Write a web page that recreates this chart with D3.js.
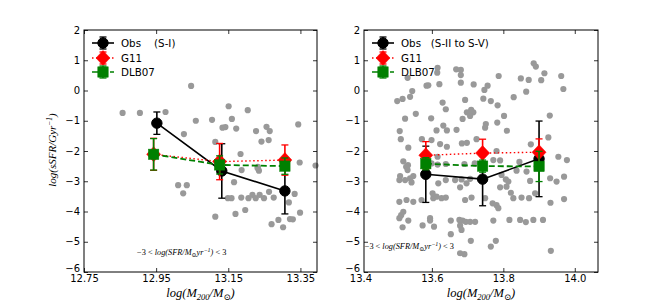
<!DOCTYPE html>
<html><head><meta charset="utf-8">
<script src="https://cdn.jsdelivr.net/npm/d3@7"></script>
<style>
body{margin:0;background:#fff}
text{font-family:"DejaVu Sans",sans-serif}
.m{font-family:"Liberation Serif","DejaVu Serif",serif;font-style:italic}
</style>
</head><body>
<svg id="c" width="664" height="302"></svg>
<script>
// ---------- data ----------
const yTicks=[2,1,0,-1,-2,-3,-4,-5,-6];
const leftXTicks=[12.75,12.95,13.15,13.35];
const rightXTicks=[13.4,13.6,13.8,14.0];

const leftScatterX=[12.857,12.905,12.976,13.047,13.060,13.027,13.105,13.151,13.160,13.204,13.134,13.142,13.172,13.227,13.256,13.265,13.242,13.262,13.344,13.114,13.184,13.348,13.392,13.232,13.187,13.231,13.235,13.011,13.035,13.025,13.166,13.149,13.159,13.186,13.206,13.217,13.226,13.237,13.249,13.263,13.276,13.334,13.318,13.349,13.197,13.170,13.114,13.270,13.289,13.302,13.321,13.329];
const leftScatterY=[-0.74,-0.74,-0.71,0.15,-1.00,-1.44,-0.97,-0.52,-0.94,-0.65,-1.23,-1.21,-1.26,-1.34,-1.20,-1.34,-1.69,-1.64,-1.12,-1.70,-2.10,-2.38,-2.48,-2.52,-2.63,-2.56,-2.65,-3.13,-3.13,-3.40,-3.03,-3.56,-3.56,-3.54,-3.56,-3.45,-3.56,-3.45,-3.56,-3.35,-3.54,-3.42,-3.70,-4.04,-3.95,-4.08,-4.17,-4.42,-4.28,-4.52,-4.25,-4.26];

const rightScatterX=[13.616,13.615,13.668,13.681,13.681,13.532,13.621,13.585,13.590,13.681,13.717,13.756,13.787,13.849,13.871,13.885,13.891,13.915,13.906,13.962,13.968,13.864,13.829,13.747,13.744,13.765,13.784,13.693,13.630,13.545,13.539,13.518,13.503,13.555,13.525,13.598,13.639,13.698,13.710,13.716,13.707,13.686,13.751,13.749,13.802,13.783,13.810,13.930,13.632,13.642,13.669,13.613,13.510,13.513,13.572,13.599,13.623,13.642,13.684,13.698,13.725,13.534,13.781,13.926,13.877,13.954,13.978,13.520,13.533,13.616,13.691,13.720,13.772,13.791,13.845,13.528,13.532,13.511,13.525,13.539,13.548,13.543,13.509,13.599,13.616,13.639,13.618,13.639,13.665,13.683,13.707,13.679,13.697,13.795,13.807,13.814,13.809,13.791,13.837,13.865,13.875,13.931,13.949,13.970,13.509,13.529,13.548,13.571,13.604,13.613,13.627,13.639,13.602,13.693,13.711,13.749,13.770,13.781,13.786,13.821,13.828,13.851,13.872,13.889,13.932,13.970,13.509,13.514,13.520,13.534,13.518,13.595,13.595,13.574,13.606,13.653,13.677,13.686,13.695,13.707,13.721,13.679,13.653,13.683,13.772,13.817,13.847,13.863,13.884,13.911,13.709,13.779,13.765,13.679,13.691,13.933];
const rightScatterY=[0.75,0.59,0.70,0.68,0.51,0.42,0.21,0.16,0.17,0.26,0.20,0.16,0.48,0.40,0.35,0.90,0.79,0.57,0.34,0.48,0.05,-0.04,-0.22,0.02,-0.27,-0.35,-0.49,-0.31,-0.40,-0.02,-0.21,-0.28,-0.35,-0.77,-0.93,-0.92,-0.62,-0.72,-0.64,-0.72,-0.84,-0.94,-1.11,-1.23,-0.84,-1.06,-1.33,-0.83,-1.16,-1.32,-1.30,-1.32,-1.34,-1.61,-1.61,-1.64,-1.77,-1.86,-1.75,-1.73,-1.61,-1.89,-2.00,-1.55,-1.78,-2.19,-2.30,-2.34,-2.47,-2.45,-2.43,-2.41,-2.30,-2.31,-2.36,-2.52,-2.63,-2.83,-2.96,-2.90,-2.83,-3.04,-2.96,-2.41,-2.19,-2.43,-3.07,-2.96,-2.96,-2.94,-2.92,-3.20,-3.07,-2.79,-2.94,-3.01,-3.18,-3.20,-2.65,-2.68,-2.99,-2.90,-3.01,-2.85,-3.68,-3.62,-3.68,-3.62,-3.56,-3.51,-3.56,-3.54,-3.40,-3.62,-3.54,-3.56,-3.73,-3.79,-3.89,-3.38,-3.56,-3.54,-3.56,-3.40,-3.71,-3.59,-4.22,-4.12,-4.01,-4.30,-4.52,-4.22,-4.30,-4.46,-4.50,-4.30,-4.28,-4.30,-4.34,-4.34,-4.34,-4.47,-4.75,-4.61,-4.30,-4.28,-4.28,-4.35,-4.28,-4.28,-4.97,-4.97,-5.16,-5.38,-5.41,-5.30];

const leftObsX=[12.952,13.132,13.307];
const leftObs=[-1.08,-2.66,-3.32];
const leftObsErr=[0.37,0.90,0.76];
const leftModelX=[12.943,13.126,13.307];
const leftG11=[-2.11,-2.35,-2.30];
const leftG11Err=[0.53,0.60,0.50];
const leftDLB=[-2.11,-2.46,-2.50];
const leftDLBErr=[0.52,0.30,0.27];

const rightObsX=[13.583,13.742,13.900];
const rightObs=[-2.77,-2.93,-2.26];
const rightObsErr=[0.93,0.88,1.25];
const rightModelX=[13.583,13.742,13.900];
const rightG11=[-2.14,-2.07,-2.04];
const rightG11Err=[0.45,0.46,0.44];
const rightDLB=[-2.42,-2.50,-2.51];
const rightDLBErr=[0.20,0.20,0.50];

const legendLabels=[["Obs    (S-I)","G11","DLB07"],["Obs   (S-II to S-V)","G11","DLB07"]];

// ---------- drawing ----------
const svg=d3.select("#c");
const Y0=272,Y1=30;

function marker(g,type,cx,cy,color){
  if(type==="circle") g.append("circle").attr("cx",cx).attr("cy",cy).attr("r",5.2).attr("fill",color).attr("stroke",color);
  else if(type==="diamond") g.append("path").attr("d",`M${cx},${cy-7.5}L${cx+7},${cy}L${cx},${cy+7.5}L${cx-7},${cy}Z`).attr("fill",color).attr("stroke",color).attr("stroke-width",0.5);
  else g.append("rect").attr("x",cx-5.2).attr("y",cy-5.2).attr("width",10.4).attr("height",10.4).attr("fill",color).attr("stroke",color).attr("stroke-width",0.5);
}
function errbar(g,cx,ya,yb,color){
  g.append("line").attr("x1",cx).attr("x2",cx).attr("y1",ya).attr("y2",yb).attr("stroke",color).attr("stroke-width",1.6);
  [ya,yb].forEach(yy=>g.append("line").attr("x1",cx-3.5).attr("x2",cx+3.5).attr("y1",yy).attr("y2",yy).attr("stroke",color).attr("stroke-width",1.3));
}
function series(g,x,y,xs,vals,errs,color,dash,type,lw){
  const line=d3.line().x((d,i)=>x(xs[i])).y(d=>y(d));
  g.append("path").datum(vals).attr("d",line).attr("fill","none").attr("stroke",color).attr("stroke-width",lw).attr("stroke-dasharray",dash);
  vals.forEach((v,i)=>errbar(g,x(xs[i]),y(v+errs[i]),y(v-errs[i]),color));
  vals.forEach((v,i)=>marker(g,type,x(xs[i]),y(v),color));
}

function panel(o){
  const x=d3.scaleLinear().domain(o.xDomain).range([o.x0,o.x1]);
  const y=d3.scaleLinear().domain([-6,2]).range([Y0,Y1]);
  const g=svg.append("g");
  g.selectAll("circle.s").data(o.sx).join("circle").attr("class","s")
    .attr("cx",d=>x(d)).attr("cy",(d,i)=>y(o.sy[i])).attr("r",3.1).attr("fill","#999");
  series(g,x,y,o.ox,o.obs,o.obsErr,"#000",null,"circle",1.6);
  series(g,x,y,o.mx,o.g11,o.g11Err,"#ff0000","1.5,2.5","diamond",1.4);
  series(g,x,y,o.mx,o.dlb,o.dlbErr,"#008000","6,3","square",1.8);

  // axes (ticks inward)
  const inDom=d=>d>=o.xDomain[0]-1e-9&&d<=o.xDomain[1]+1e-9;
  const ab=g.append("g").attr("transform",`translate(0,${Y0})`)
    .call(d3.axisBottom(x).tickValues(o.xTicks).tickFormat(d3.format(o.xFmt)).tickSizeInner(-4).tickSizeOuter(0).tickPadding(3));
  const at=g.append("g").attr("transform",`translate(0,${Y1})`)
    .call(d3.axisTop(x).tickValues(o.xTicks.filter(inDom)).tickFormat("").tickSizeInner(-4).tickSizeOuter(0));
  const al=g.append("g").attr("transform",`translate(${o.x0},0)`)
    .call(d3.axisLeft(y).tickValues(yTicks).tickFormat(d3.format("d")).tickSizeInner(-4).tickSizeOuter(0).tickPadding(4));
  const ar=g.append("g").attr("transform",`translate(${o.x1},0)`)
    .call(d3.axisRight(y).tickValues(yTicks).tickFormat("").tickSizeInner(-4).tickSizeOuter(0));
  ab.selectAll(".tick").filter(d=>!inDom(d)).select("line").remove();
  al.selectAll(".tick").filter(d=>d===-6).select("text").attr("dy","-0.1em");
  [ab,at,al,ar].forEach(a=>{a.select(".domain").remove();a.selectAll("text").attr("font-size",10).attr("fill","#000").attr("font-family","DejaVu Sans");a.selectAll(".tick line").attr("stroke","#000").attr("stroke-width",0.8);});
  g.append("rect").attr("x",o.x0).attr("y",Y1).attr("width",o.x1-o.x0).attr("height",Y0-Y1)
    .attr("fill","none").attr("stroke","#000").attr("stroke-width",1);

  // x label
  const xl=g.append("text").attr("class","m").attr("x",(o.x0+o.x1)/2).attr("y",297).attr("text-anchor","middle").attr("font-size",12.5);
  xl.append("tspan").text("log(M");
  xl.append("tspan").attr("font-size",8.5).attr("dy",3).text("200");
  xl.append("tspan").attr("dy",-3).text("/M");
  xl.append("tspan").attr("font-size",8.5).attr("dy",3).text("⊙");
  xl.append("tspan").attr("dy",-3).text(")");

  // annotation
  const an=g.append("text").attr("class","m").attr("x",x(o.annX)).attr("y",y(o.annY)).attr("font-size",8.3);
  an.append("tspan").style("font-style","normal").text("−3 < ");
  an.append("tspan").text("log(SFR/M");
  an.append("tspan").attr("font-size",6).attr("dy",2).text("⊙");
  an.append("tspan").attr("dy",-2).text("yr");
  an.append("tspan").attr("font-size",6).attr("dy",-3).text("−1");
  an.append("tspan").attr("dy",3).text(")");
  an.append("tspan").style("font-style","normal").text(" < 3");

  // legend
  const types=[["#000","circle",null],["#ff0000","diamond","1.5,2.5"],["#008000","square","6,3"]];
  const rows=[43,58,72];
  types.forEach((t,i)=>{
    const lx0=o.x0+8,lx1=o.x0+30,mx=o.x0+19,ly=rows[i];
    g.append("line").attr("x1",lx0).attr("x2",lx1).attr("y1",ly).attr("y2",ly).attr("stroke",t[0]).attr("stroke-width",1.6).attr("stroke-dasharray",t[2]);
    errbar(g,mx,ly-6,ly+6,t[0]);
    marker(g,t[1],mx,ly,t[0]);
    g.append("text").attr("x",o.x0+37).attr("y",ly+3.8).attr("font-size",10.3).style("white-space","pre").text(o.legend[i]);
  });
}

panel({xDomain:[12.75,13.396],x0:84,x1:317,xTicks:leftXTicks,xFmt:".2f",
  sx:leftScatterX,sy:leftScatterY,ox:leftObsX,obs:leftObs,obsErr:leftObsErr,
  mx:leftModelX,g11:leftG11,g11Err:leftG11Err,dlb:leftDLB,dlbErr:leftDLBErr,
  annX:12.897,annY:-5.45,legend:legendLabels[0]});
panel({xDomain:[13.41,14.065],x0:364,x1:598,xTicks:rightXTicks,xFmt:".1f",
  sx:rightScatterX,sy:rightScatterY,ox:rightObsX,obs:rightObs,obsErr:rightObsErr,
  mx:rightModelX,g11:rightG11,g11Err:rightG11Err,dlb:rightDLB,dlbErr:rightDLBErr,
  annX:13.412,annY:-5.25,legend:legendLabels[1]});

// y label (left panel only)
const yl=svg.append("text").attr("class","m").attr("transform","translate(56,150) rotate(-90)").attr("text-anchor","middle").attr("font-size",11);
yl.append("tspan").text("log(sSFR/Gyr");
yl.append("tspan").attr("font-size",7.5).attr("dy",-4).text("−1");
yl.append("tspan").attr("dy",4).text(")");
</script>
</body></html>
